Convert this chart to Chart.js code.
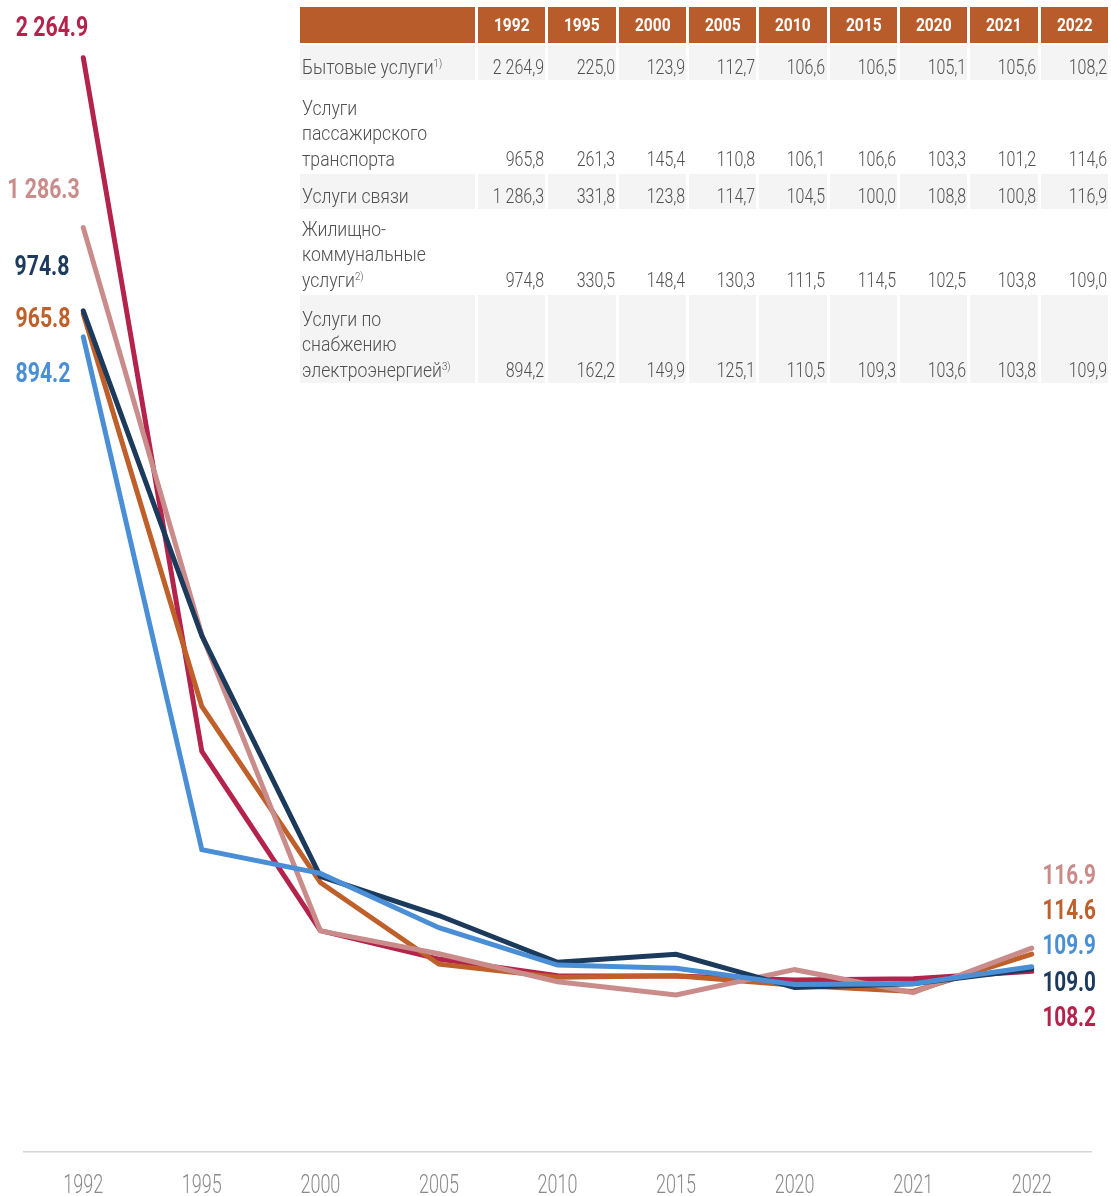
<!DOCTYPE html>
<html><head><meta charset="utf-8">
<script src="https://cdn.jsdelivr.net/npm/chart.js@4.4.1/dist/chart.umd.min.js"></script>
<style>
html,body{margin:0;padding:0;background:#fff;overflow:hidden;}
#wrap{position:relative;width:1111px;height:1196px;overflow:hidden;}
#c{position:absolute;left:0;top:0;}
#tbl{position:absolute;left:297px;top:5px;border-collapse:separate;border-spacing:3px 2px;table-layout:fixed;font-family:Roboto,sans-serif;font-weight:300;color:#505050;font-size:20px;}
#tbl td,#tbl th{box-sizing:border-box;padding:0 1px 0 2px;vertical-align:bottom;line-height:25.5px;white-space:nowrap;}
#tbl th{background:#b95c2b;color:#fff;font-weight:700;height:36px;vertical-align:middle;padding:0;text-align:center;font-size:19px;}
#tbl td{text-align:right;}
#tbl td.l{text-align:left;}
#tbl tr.g td{background:#f4f4f4;}
.n{display:inline-block;transform:scaleX(.8);transform-origin:right bottom;}
.t{display:inline-block;transform:scaleX(.88);transform-origin:left bottom;}
.h{display:inline-block;transform:scaleX(.82);}
sup{font-size:11px;line-height:0;vertical-align:7px;}
</style></head>
<body>
<div id="wrap">
<canvas id="c" width="1111" height="1196"></canvas>
<table id="tbl"></table>
</div>
<script>
// ---- data ----
const years = ['1992','1995','2000','2005','2010','2015','2020','2021','2022'];
const householdServices   = [2264.9, 225.0, 123.9, 112.7, 106.6, 106.5, 105.1, 105.6, 108.2];
const passengerTransport  = [965.8, 261.3, 145.4, 110.8, 106.1, 106.6, 103.3, 101.2, 114.6];
const communication       = [1286.3, 331.8, 123.8, 114.7, 104.5, 100.0, 108.8, 100.8, 116.9];
const housingUtilities    = [974.8, 330.5, 148.4, 130.3, 111.5, 114.5, 102.5, 103.8, 109.0];
const electricitySupply   = [894.2, 162.2, 149.9, 125.1, 110.5, 109.3, 103.6, 103.8, 109.9];
const seriesNames = ['Бытовые услуги','Услуги пассажирского транспорта','Услуги связи','Жилищно-коммунальные услуги','Услуги по снабжению электроэнергией'];
const tableRowLabels = [
  'Бытовые услуги<sup>1)</sup>',
  'Услуги<br>пассажирского<br>транспорта',
  'Услуги связи',
  'Жилищно-<br>коммунальные<br>услуги<sup>2)</sup>',
  'Услуги по<br>снабжению<br>электроэнергией<sup>3)</sup>'
];
const seriesValues = [householdServices, passengerTransport, communication, housingUtilities, electricitySupply];

// ---- styling / layout ----
const seriesColors = ['#b3234b', '#bf5f29', '#c98c8a', '#1b3a5c', '#4a8fd6'];
const drawOrder = [4, 3, 2, 1, 0]; // Chart.js 'order': lower drawn on top
const leftLabelPos  = [[52, 29], [43, 320], [43.5, 191], [42, 268], [43, 375]];
const rightLabelY   = [1019, 912, 877, 984, 947];
const rowHeights = [35, 90, 35, 82, 88];

function fmt(v, dec) {
  const s = v.toFixed(1).split('.');
  const int = s[0].replace(/\B(?=(\d{3})+(?!\d))/g, ' ');
  return int + dec + s[1];
}

// ---- table ----
(function buildTable() {
  const t = document.getElementById('tbl');
  let html = '<colgroup><col style="width:175px">' + years.map(() => '<col style="width:67.5px">').join('') + '</colgroup>';
  html += '<tr><th></th>' + years.map(y => '<th><span class="h">' + y + '</span></th>').join('') + '</tr>';
  seriesValues.forEach((vals, i) => {
    html += '<tr class="' + (i % 2 === 0 ? 'g' : '') + '" style="height:' + rowHeights[i] + 'px"><td class="l"><span class="t">' + tableRowLabels[i] + '</span></td>' +
      vals.map(v => '<td><span class="n">' + fmt(v, ',') + '</span></td>').join('') + '</tr>';
  });
  t.innerHTML = html;
})();

// ---- text helper ----
function drawText(ctx, text, x, y, align, font, color, sx) {
  ctx.save();
  ctx.font = font;
  ctx.fillStyle = color;
  ctx.textBaseline = 'middle';
  ctx.textAlign = align;
  ctx.translate(x, y);
  ctx.scale(sx, 1);
  ctx.fillText(text, 0, 0);
  ctx.restore();
}

const labelsPlugin = {
  id: 'labelsPlugin',
  afterDraw(chart) {
    const ctx = chart.ctx;
    const xs = chart.scales.x;
    const area = chart.chartArea;
    years.forEach((y, i) => {
      drawText(ctx, y, xs.getPixelForValue(i), area.bottom + 35, 'center', '300 25px Roboto', '#8a8a8a', 0.72);
    });
    seriesValues.forEach((vals, i) => {
      const first = vals[0], last = vals[vals.length - 1];
      drawText(ctx, fmt(first, '.'), leftLabelPos[i][0], leftLabelPos[i][1], 'center', '700 28px Roboto', seriesColors[i], 0.76);
      drawText(ctx, fmt(last, '.'), 1096, rightLabelY[i], 'right', '700 28px Roboto', seriesColors[i], 0.74);
    });
  }
};

new Chart(document.getElementById('c'), {
  type: 'line',
  data: {
    labels: years,
    datasets: seriesValues.map((vals, i) => ({
      label: seriesNames[i],
      data: vals,
      borderColor: seriesColors[i],
      backgroundColor: seriesColors[i],
      borderWidth: 5,
      borderCapStyle: 'round',
      pointRadius: 0,
      pointHoverRadius: 0,
      tension: 0,
      fill: false,
      order: drawOrder[i]
    }))
  },
  options: {
    responsive: false,
    animation: false,
    layout: { padding: { left: 24, right: 20, top: 28, bottom: 44 } },
    plugins: { legend: { display: false }, tooltip: { enabled: false } },
    scales: {
      x: {
        offset: true,
        grid: { display: false, drawTicks: false },
        ticks: { display: false },
        border: { display: true, color: '#d6d6d6', width: 1.5 }
      },
      y: {
        type: 'logarithmic',
        display: false,
        bounds: 'data',
        min: 59.3,
        max: 2500
      }
    }
  },
  plugins: [labelsPlugin]
});
</script>
</body></html>
